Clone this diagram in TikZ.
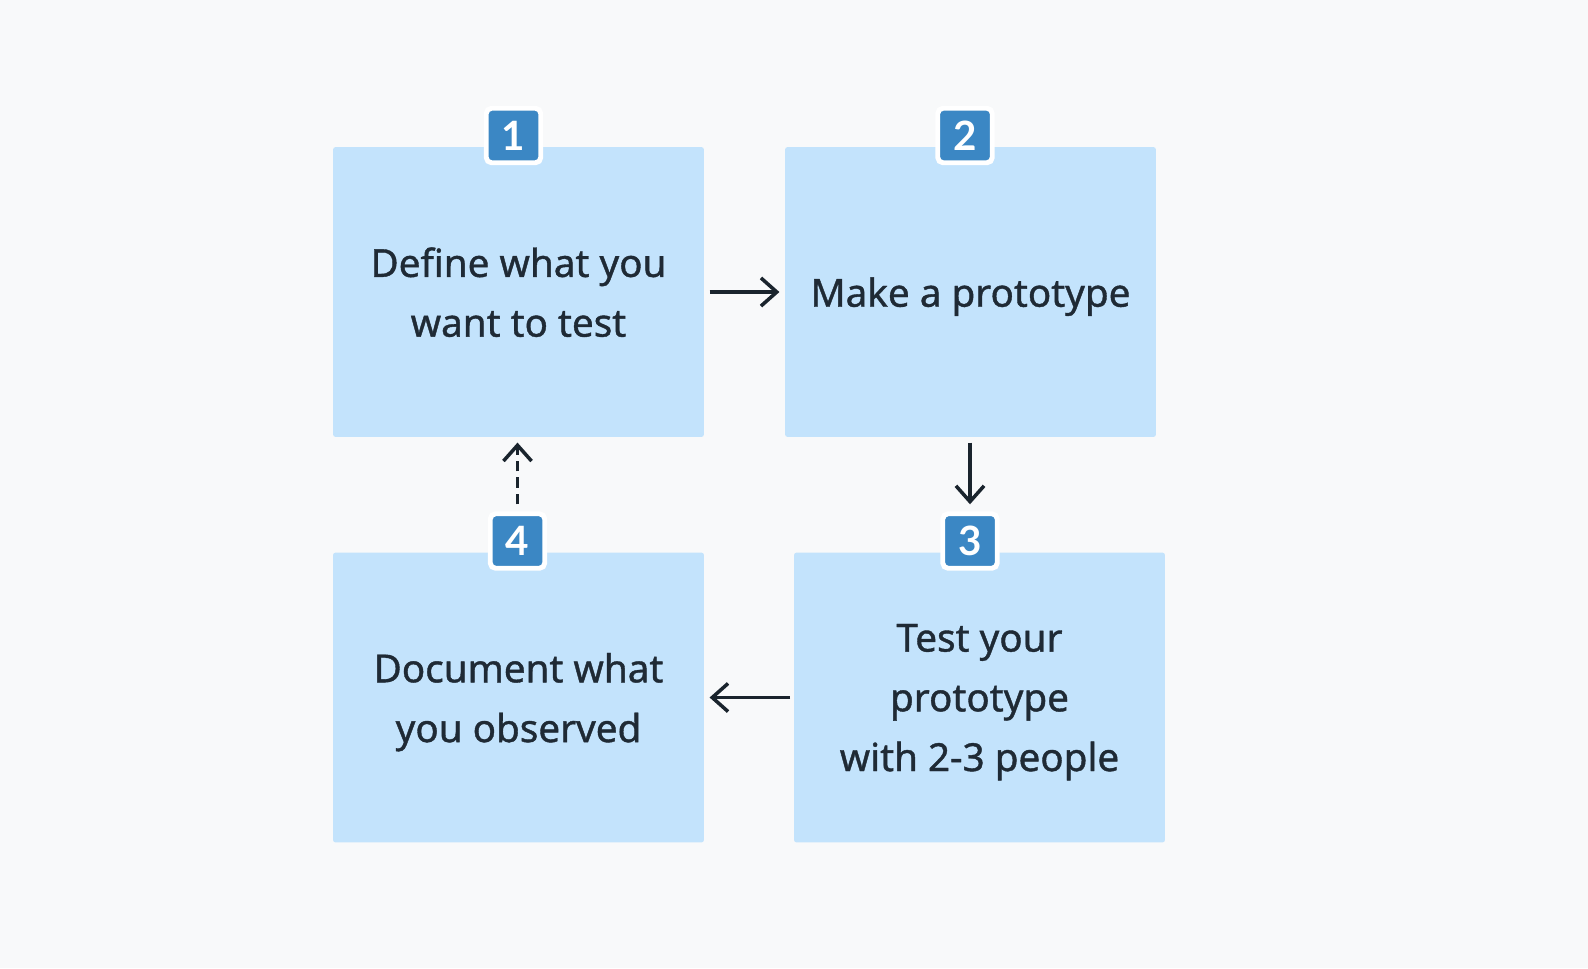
\documentclass[tikz,border=0pt]{standalone}
\usepackage{fontspec}
\setmainfont{Noto Sans}[RawFeature={embolden=1.0}]
\newfontfamily\badgefont{Lato}
\usetikzlibrary{arrows.meta}

\definecolor{bgcol}{HTML}{F8F9FA}
\definecolor{boxcol}{HTML}{C3E3FC}
\definecolor{badgecol}{HTML}{3B87C4}
\definecolor{textcol}{HTML}{1F2A35}

\begin{document}
\begin{tikzpicture}[
    x=0.02cm, y=-0.02cm,
    stepbox/.style={fill=boxcol, rounded corners=1.5pt, minimum width=7.42cm, minimum height=5.8cm,
        align=center, text=textcol, font=\fontsize{22}{34}\selectfont, inner sep=0pt, text depth=0pt},
    badge/.style={fill=badgecol, draw=white, line width=2.8pt, rounded corners=3pt,
        minimum size=1.09cm, inner sep=0pt, text=white, font=\badgefont\fontsize{23}{23}\selectfont\bfseries},
    >={Straight Barb[length=9pt, width=16pt, line width=2pt]},
    flow/.style={->, line width=2pt, draw=textcol!85!black}
]
    % background
    \fill[bgcol] (0,0) rectangle (1588,968);
    \useasboundingbox (0,0) rectangle (1588,968);

    % boxes (4 steps)
    \node[stepbox] (define) at (518.5,292) {Define what you\\want to test};      % step 1
    \node[stepbox] (make) at (970.5,292) {Make a prototype};                     % step 2
    \node[stepbox] (test) at (979.5,697.5) {Test your\\prototype\\with 2-3 people}; % step 3
    \node[stepbox] (document) at (518.5,697.5) {Document what\\you observed};    % step 4

    % number badges
    \node[badge] (b1) at (513.5,135.5) {1};
    \node[badge] (b2) at (965,135.5) {2};
    \node[badge] (b3) at (970,541) {3};
    \node[badge] (b4) at (517.5,541) {4};

    % 1. define -> make
    \draw[flow, shorten <=3pt, shorten >=3pt] (define.east) -- (make.west);

    % 2. make -> test
    \draw[flow, shorten <=3pt, shorten >=4pt] (make.south -| b3) -- (b3.north);

    % 3. test -> document
    \draw[flow, shorten <=2pt, shorten >=3pt] (test.west) -- (document.east);

    % 4. document -> define (dashed)
    \draw[flow, dash pattern=on 6pt off 3.4pt, shorten <=4pt, shorten >=3pt] (b4.north) -- (define.south -| b4);

\end{tikzpicture}
\end{document}
